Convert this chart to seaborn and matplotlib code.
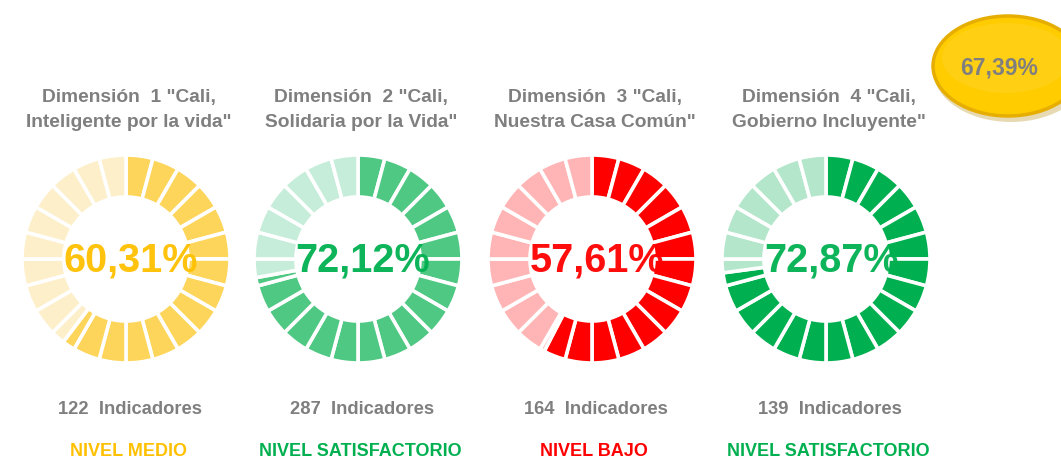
import numpy as np
import matplotlib
matplotlib.use('Agg')
import matplotlib.pyplot as plt
from matplotlib.patches import Ellipse
import seaborn as sns

# Datos del tablero
titulos = [
    'Dimensión  1 "Cali,\nInteligente por la vida"',
    'Dimensión  2 "Cali,\nSolidaria por la Vida"',
    'Dimensión  3 "Cali,\nNuestra Casa Común"',
    'Dimensión  4 "Cali,\nGobierno Incluyente"',
]
porcentajes = [60.31, 72.12, 57.61, 72.87]
indicadores = [122, 287, 164, 139]
niveles = ['NIVEL MEDIO', 'NIVEL SATISFACTORIO', 'NIVEL BAJO', 'NIVEL SATISFACTORIO']
promedio_general = 67.39
n_segmentos = 24

# Colores (relleno, fondo, texto)
color_lleno = ['#FDD55A', '#4FC883', '#FF0000', '#00B050']
color_vacio = ['#FDEFC9', '#C6EDD9', '#FFB5B5', '#B3E6CA']
color_texto = ['#FFC000', '#00B050', '#FF0000', '#00B050']
GRIS = '#7F7F7F'

W, H = 1061, 459

sns.set_theme(style='white')
plt.rcParams['font.family'] = ['Liberation Sans', 'DejaVu Sans']


def fmt_pct(v):
    return f"{v:.2f}".replace('.', ',') + '%'


def segmentos(pct, n):
    """Porciones de cada segmento: parte llena y parte vacia."""
    llenos = pct / 100 * n
    sizes, cols = [], []
    for i in range(n):
        f = float(np.clip(llenos - i, 0, 1))
        if f > 0:
            sizes.append(f)
            cols.append('lleno')
        if f < 1:
            sizes.append(1 - f)
            cols.append('vacio')
    return sizes, cols


fig = plt.figure(figsize=(W / 100, H / 100), dpi=100)
ax = fig.add_axes([0, 0, 1, 1])

# layout (pixeles desde arriba)
centros_x = [126, 358, 592, 826]
centro_y = 259
radio = 104
ancho = 42

for k in range(4):
    cx = centros_x[k]
    cy = H - centro_y
    sizes, tipo = segmentos(porcentajes[k], n_segmentos)
    cols = [color_lleno[k] if t == 'lleno' else color_vacio[k] for t in tipo]
    ax.pie(sizes, colors=cols, startangle=90, counterclock=False,
           radius=radio, center=(cx, cy),
           wedgeprops=dict(width=ancho, edgecolor='white', linewidth=2.6))

    ax.text(cx + 5, cy - 2, fmt_pct(porcentajes[k]), ha='center', va='center',
            fontsize=28.5, fontweight='bold', color=color_texto[k], alpha=0.95)

    ax.text(cx + 3, H - 110, titulos[k], ha='center', va='center',
            fontsize=13.8, fontweight='bold', color=GRIS, linespacing=1.55,
            multialignment='center')

    ax.text(cx + 4, H - 409, f"{indicadores[k]}  Indicadores", ha='center',
            va='center', fontsize=13.2, fontweight='bold', color=GRIS)

    ax.text(cx + 2, H - 451, niveles[k], ha='center', va='center',
            fontsize=13, fontweight='bold', color=color_texto[k])

# promedio general arriba a la derecha
ax.add_patch(Ellipse((1011, H - 70), 156, 104, facecolor='#B08600',
                     edgecolor='none', alpha=0.3))
ax.add_patch(Ellipse((1008, H - 66), 150, 100, facecolor='#FFCC00',
                     edgecolor='#E6AE00', linewidth=2.5))
ax.add_patch(Ellipse((1006, H - 58), 128, 70, facecolor='#FFD633',
                     edgecolor='none', alpha=0.4))
ax.text(999, H - 68, fmt_pct(promedio_general), ha='center', va='center',
        fontsize=16.5, fontweight='bold', color=GRIS)

ax.set_xlim(0, W)
ax.set_ylim(0, H)
ax.set_aspect('equal')
ax.axis('off')

fig.savefig('out.png', dpi=100, facecolor='white')
